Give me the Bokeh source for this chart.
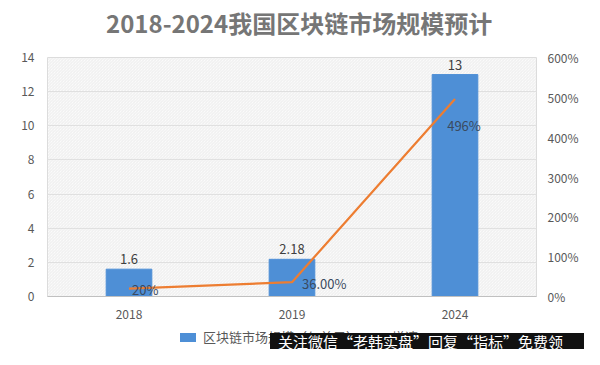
from bokeh.plotting import figure
from bokeh.layouts import column
from bokeh.models import (ColumnDataSource, LinearAxis, Range1d, NumeralTickFormatter,
                          BoxAnnotation, FactorRange, Div)
from bokeh.embed import file_html
from bokeh.resources import INLINE
from bokeh.core.properties import value

years = ["2018", "2019", "2024"]
market = [1.6, 2.18, 13]
market_labels = ["1.6", "2.18", "13"]
growth = [0.20, 0.36, 4.96]
growth_labels = ["20%", "36.00%", "496%"]
series_names = ["区块链市场规模（亿美元）", "增速"]
title_text = "2018-2024我国区块链市场规模预计"
watermark_text = "关注微信“老韩实盘”回复“指标”免费领"

FONT = "Noto Sans CJK SC"
BLUE = "#4e8fd6"
ORANGE = "#ed7d31"
GRAY = "#595959"
LBL = "#404040"

W = 584
src = ColumnDataSource(dict(x=years, m=market, ml=market_labels, g=growth, gl=growth_labels))

# title strip
title_html = f"""
<div style="position:relative;width:{W}px;height:40px;overflow:hidden;background:white;">
  <span style="position:absolute;left:106px;top:10px;font-family:'{FONT}';font-weight:bold;font-size:24px;line-height:26px;color:#767676;white-space:nowrap;">{title_text}</span>
</div>
"""
t = Div(text=title_html, width=W, height=40, margin=0)

p = figure(width=W, height=282, x_range=FactorRange(*years), y_range=Range1d(0, 14),
           output_backend="svg", toolbar_location=None,
           min_border_left=47, min_border_right=48, min_border_top=17, min_border_bottom=26)
p.extra_y_ranges = {"pct": Range1d(0, 6)}

p.outline_line_color = "#dcdcdc"
p.background_fill_color = "white"
p.border_fill_color = "white"

bg = BoxAnnotation(fill_alpha=0, line_alpha=0, hatch_pattern="left_diagonal_line",
                   hatch_color="#dadada", hatch_scale=3, hatch_weight=0.5, level="underlay")
p.add_layout(bg)

p.vbar(x="x", top="m", width=0.28, source=src, color=BLUE)
p.line(x="x", y="g", source=src, y_range_name="pct", color=ORANGE, line_width=2.2)

p.text(x="x", y="m", text="ml", source=src, text_align="center", text_baseline="bottom",
       y_offset=-5, text_font=value(FONT), text_font_size="13px", text_color=LBL)

p.text(x=[years[0]], y=[growth[0]], text=[growth_labels[0]], y_range_name="pct",
       x_offset=3, y_offset=1, text_align="left", text_baseline="middle",
       text_font=value(FONT), text_font_size="13px", text_color="#3a4a60")
p.text(x=[years[1]], y=[growth[1]], text=[growth_labels[1]], y_range_name="pct",
       x_offset=10, y_offset=1, text_align="left", text_baseline="middle",
       text_font=value(FONT), text_font_size="13px", text_color="#3a4a60")
p.text(x=[years[2]], y=[growth[2]], text=[growth_labels[2]], y_range_name="pct",
       x_offset=9, y_offset=27, text_align="center", text_baseline="middle",
       text_font=value(FONT), text_font_size="13px", text_color="#3a4a60")

p.yaxis.ticker = list(range(0, 15, 2))
ax_r = LinearAxis(y_range_name="pct", ticker=[0, 1, 2, 3, 4, 5, 6],
                  formatter=NumeralTickFormatter(format="0%"))
p.add_layout(ax_r, "right")

for ax in [p.yaxis[0], ax_r]:
    ax.axis_line_color = None
    ax.major_tick_line_color = None
    ax.minor_tick_line_color = None
    ax.major_label_text_font = FONT
    ax.major_label_text_font_size = "12px"
    ax.major_label_text_color = GRAY
ax_r.major_label_standoff = 5
p.yaxis[0].major_label_standoff = 7

p.xaxis.axis_line_color = "#c0c0c0"
p.xaxis.major_tick_line_color = None
p.xaxis.minor_tick_line_color = None
p.xaxis.major_label_text_font = FONT
p.xaxis.major_label_text_font_size = "12px"
p.xaxis.major_label_text_color = GRAY
p.xaxis.major_label_standoff = 7

p.xgrid.grid_line_color = None
p.ygrid.grid_line_color = "#e2e2e2"

# bottom strip: legend + watermark banner
html = f"""
<div style="position:relative;width:{W}px;height:27px;overflow:hidden;font-family:'{FONT}';background:white;">
  <span style="position:absolute;left:180px;top:11px;width:16px;height:9px;background:{BLUE};"></span>
  <span style="position:absolute;left:203px;top:5px;font-size:13px;line-height:20px;color:{GRAY};white-space:nowrap;">{series_names[0]}</span>
  <span style="position:absolute;left:365px;top:14px;width:20px;height:2px;background:{ORANGE};"></span>
  <span style="position:absolute;left:392px;top:5px;font-size:13px;line-height:20px;color:{GRAY};white-space:nowrap;">{series_names[1]}</span>
  <div style="position:absolute;left:270px;top:11px;width:314px;height:16px;background:#111111;color:white;font-size:15px;line-height:15px;padding:1px 0 0 8px;box-sizing:border-box;white-space:nowrap;">{watermark_text}</div>
</div>
"""
b = Div(text=html, width=W, height=27, margin=0)

layout = column(t, p, b, spacing=0)
open("out.html", "w").write(file_html(layout, INLINE))
